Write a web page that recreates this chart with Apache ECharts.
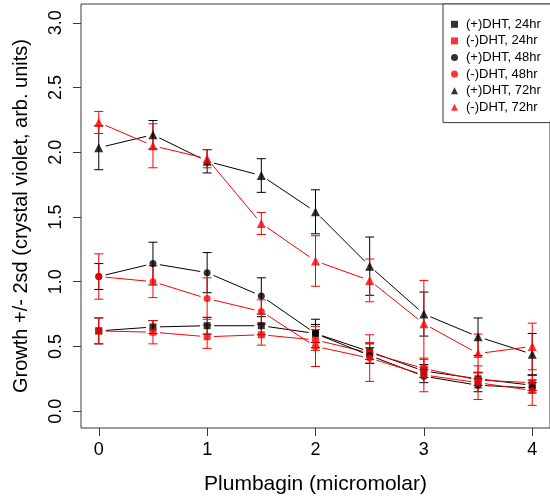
<!DOCTYPE html>
<html>
<head>
<meta charset="utf-8">
<script src="https://cdn.jsdelivr.net/npm/echarts@6/dist/echarts.min.js"></script>
<style>
html,body{margin:0;padding:0;background:#fff;}
#chart{width:550px;height:500px;}
</style>
</head>
<body>
<div id="chart"></div>
<script>
// ---- data ----
var doses = [0, 0.5, 1, 1.5, 2, 2.5, 3, 3.5, 4];
var xTicks = [0, 1, 2, 3, 4];
var yTicks = [0, 0.5, 1.0, 1.5, 2.0, 2.5, 3.0];

var plus24     = [0.62, 0.65, 0.66, 0.66, 0.60, 0.46, 0.31, 0.25, 0.20];
var plus24Err  = [0.10, 0.05, 0.065, 0.07, 0.07, 0.06, 0.05, 0.05, 0.04];
var minus24    = [0.62, 0.61, 0.575, 0.59, 0.55, 0.45, 0.33, 0.24, 0.22];
var minus24Err = [0.10, 0.09, 0.09, 0.08, 0.08, 0.08, 0.07, 0.06, 0.06];
var plus48     = [1.04, 1.14, 1.07, 0.89, 0.60, 0.43, 0.27, 0.20, 0.18];
var plus48Err  = [0.10, 0.165, 0.155, 0.14, 0.11, 0.06, 0.05, 0.05, 0.04];
var minus48    = [1.04, 1.00, 0.87, 0.77, 0.50, 0.41, 0.28, 0.22, 0.16];
var minus48Err = [0.175, 0.123, 0.16, 0.09, 0.155, 0.18, 0.13, 0.13, 0.115];
var plus72     = [2.035, 2.135, 1.93, 1.82, 1.54, 1.12, 0.75, 0.575, 0.44];
var plus72Err  = [0.17, 0.11, 0.09, 0.13, 0.17, 0.225, 0.17, 0.145, 0.16];
var minus72    = [2.23, 2.05, 1.95, 1.45, 1.16, 1.01, 0.675, 0.445, 0.50];
var minus72Err = [0.085, 0.17, 0.07, 0.085, 0.195, 0.165, 0.335, 0.15, 0.18];

var groups = [
  {name: '(+)DHT, 24hr', y: plus24,  e: plus24Err,  color: '#000000', symbol: 'rect',     size: 7},
  {name: '(-)DHT, 24hr', y: minus24, e: minus24Err, color: '#ff0000', symbol: 'rect',     size: 7},
  {name: '(+)DHT, 48hr', y: plus48,  e: plus48Err,  color: '#000000', symbol: 'circle',   size: 7},
  {name: '(-)DHT, 48hr', y: minus48, e: minus48Err, color: '#ff0000', symbol: 'circle',   size: 7},
  {name: '(+)DHT, 72hr', y: plus72,  e: plus72Err,  color: '#000000', symbol: 'triangle', size: 9},
  {name: '(-)DHT, 72hr', y: minus72, e: minus72Err, color: '#ff0000', symbol: 'triangle', size: 9}
];

var FONT = '"Liberation Sans", Arial, sans-serif';
var GAP = 7;   // gap between line segments and points (R type="b")
var CAP = 4.5; // half width of error bar caps

function lineRender(color) {
  return function (params, api) {
    var a = api.coord([api.value(0), api.value(1)]);
    var b = api.coord([api.value(2), api.value(3)]);
    var dx = b[0] - a[0], dy = b[1] - a[1];
    var len = Math.sqrt(dx * dx + dy * dy);
    if (len <= 2 * GAP) return null;
    var ux = dx / len, uy = dy / len;
    return {
      type: 'line',
      shape: {x1: a[0] + ux * GAP, y1: a[1] + uy * GAP, x2: b[0] - ux * GAP, y2: b[1] - uy * GAP},
      style: {stroke: color, lineWidth: 1}
    };
  };
}
function errRender(color) {
  return function (params, api) {
    var x = api.value(0), y = api.value(1), e = api.value(2);
    var hi = api.coord([x, y + e]);
    var lo = api.coord([x, y - e]);
    var st = {stroke: color, lineWidth: 1};
    return {
      type: 'group',
      children: [
        {type: 'line', shape: {x1: hi[0], y1: hi[1], x2: lo[0], y2: lo[1]}, style: st},
        {type: 'line', shape: {x1: hi[0] - CAP, y1: hi[1], x2: hi[0] + CAP, y2: hi[1]}, style: st},
        {type: 'line', shape: {x1: lo[0] - CAP, y1: lo[1], x2: lo[0] + CAP, y2: lo[1]}, style: st}
      ]
    };
  };
}

var series = [];
groups.forEach(function (g, gi) {
  var segs = [];
  for (var i = 0; i < doses.length - 1; i++) {
    segs.push([doses[i], g.y[i], doses[i + 1], g.y[i + 1]]);
  }
  var errs = doses.map(function (d, i) { return [d, g.y[i], g.e[i]]; });
  var pts = doses.map(function (d, i) { return [d, g.y[i]]; });
  series.push({
    type: 'custom', name: 'seg' + gi, renderItem: lineRender(g.color),
    data: segs, encode: {x: [0, 2], y: [1, 3]}, silent: true, animation: false
  });
  series.push({
    type: 'custom', name: 'err' + gi, renderItem: errRender(g.color),
    data: errs, encode: {x: 0, y: 1}, silent: true, animation: false
  });
  series.push({
    type: 'scatter', name: g.name, data: pts, symbol: g.symbol, symbolSize: g.size,
    itemStyle: {color: g.color}, animation: false
  });
});

var chart = echarts.init(document.getElementById('chart'), null, {renderer: 'canvas'});
chart.setOption({
  animation: false,
  backgroundColor: '#ffffff',
  textStyle: {fontFamily: FONT},
  grid: {left: 81, right: -6, top: 4, bottom: 68, show: true, borderColor: '#3a3a3a', borderWidth: 1, containLabel: false},
  xAxis: {
    type: 'value', min: -0.164, max: 4.164,
    name: 'Plumbagin (micromolar)', nameLocation: 'middle', nameGap: 46,
    nameTextStyle: {fontSize: 21, color: '#000', fontFamily: FONT},
    axisLine: {show: false, onZero: false},
    splitLine: {show: false},
    axisTick: {show: true, length: 8, customValues: xTicks, lineStyle: {color: '#3a3a3a'}},
    axisLabel: {customValues: xTicks, fontSize: 18, color: '#000', margin: 13, fontFamily: FONT,
      formatter: function (v) { return String(v); }}
  },
  yAxis: {
    type: 'value', min: -0.13, max: 3.145,
    name: 'Growth +/- 2sd (crystal violet, arb. units)', nameLocation: 'middle', nameGap: 50,
    nameTextStyle: {fontSize: 20, color: '#000', fontFamily: FONT},
    axisLine: {show: false, onZero: false},
    splitLine: {show: false},
    axisTick: {show: true, length: 8, customValues: yTicks, lineStyle: {color: '#3a3a3a'}},
    axisLabel: {customValues: yTicks, fontSize: 18, color: '#000', margin: 16, rotate: 90, fontFamily: FONT,
      formatter: function (v) { return v.toFixed(1); }}
  },
  legend: {
    orient: 'vertical', left: 443, top: 4,
    itemWidth: 7, itemHeight: 7, itemGap: 0,
    padding: [12, 30, 7, 8],
    borderColor: '#3a3a3a', borderWidth: 1, backgroundColor: '#fff',
    textStyle: {fontSize: 13, color: '#000', lineHeight: 16.6, fontFamily: FONT, padding: [0, 0, 0, 3]},
    selectedMode: false,
    data: groups.map(function (g) { return {name: g.name, icon: g.symbol}; })
  },
  series: series
});
</script>
</body>
</html>
